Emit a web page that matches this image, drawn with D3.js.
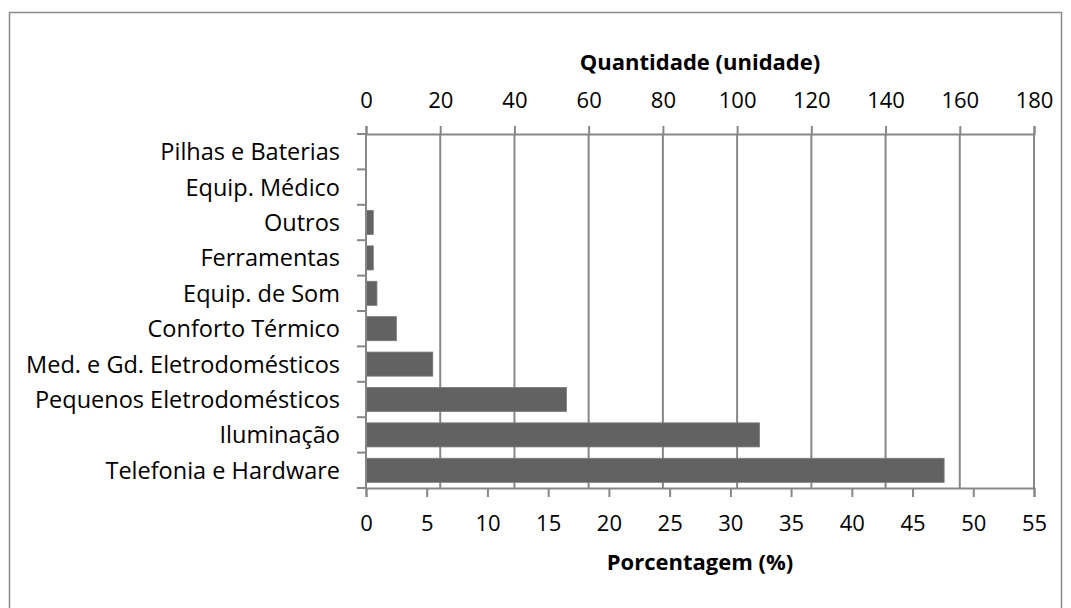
<!DOCTYPE html>
<html>
<head>
<meta charset="utf-8">
<script src="https://d3js.org/d3.v7.min.js"></script>
<style>
  body { margin: 0; background: #fff; }
  text { font-family: "Open Sans", Carlito, Calibri, sans-serif; fill: #000; }
  .title { font-weight: bold; }
</style>
</head>
<body>
<script>
  // values
  var categories = ["Pilhas e Baterias", "Equip. Médico", "Outros", "Ferramentas",
    "Equip. de Som", "Conforto Térmico", "Med. e Gd. Eletrodomésticos",
    "Pequenos Eletrodomésticos", "Iluminação", "Telefonia e Hardware"];
  var percent = [0, 0, 0.6, 0.6, 0.9, 2.5, 5.5, 16.5, 32.4, 47.6];
  var qtyTicks = [0, 20, 40, 60, 80, 100, 120, 140, 160, 180];
  var pctTicks = [0, 5, 10, 15, 20, 25, 30, 35, 40, 45, 50, 55];

  var W = 1071, H = 608;
  var margin = {top: 134, left: 366, right: 37, bottom: 120};
  var width = W - margin.left - margin.right,
      height = H - margin.top - margin.bottom;
  var grey = "#878787";

  var svg = d3.select("body").append("svg")
    .attr("width", W)
    .attr("height", H);

  // chart frame
  svg.append("rect")
    .attr("x", 9.5).attr("y", 12.5)
    .attr("width", 1052).attr("height", 620)
    .attr("fill", "none")
    .attr("stroke", "#8a8a8a")
    .attr("stroke-width", 1.5);

  var g = svg.append("g")
    .attr("transform", "translate(" + margin.left + "," + margin.top + ")");

  var xPct = d3.scaleLinear().domain([0, 55]).range([0, width]);
  var xQty = d3.scaleLinear().domain([0, 180]).range([0, width]);
  var y = d3.scaleBand()
    .domain(categories)
    .range([0, height])
    .paddingInner(0.32)
    .paddingOuter(0.16);

  // vertical gridlines from the top axis
  g.selectAll(".grid")
    .data(qtyTicks.slice(1))
    .enter()
    .append("line")
    .attr("class", "grid")
    .attr("x1", function(d) { return xQty(d); })
    .attr("x2", function(d) { return xQty(d); })
    .attr("y1", 0)
    .attr("y2", height)
    .attr("stroke", grey)
    .attr("stroke-width", 2);

  // bars
  g.selectAll(".bar")
    .data(categories)
    .enter()
    .append("rect")
    .attr("class", "bar")
    .attr("x", 0)
    .attr("y", function(d) { return y(d); })
    .attr("width", function(d, i) { return xPct(percent[i]); })
    .attr("height", y.bandwidth())
    .attr("fill", "#626262")
    .attr("stroke", "#7a7a7a")
    .attr("stroke-width", 0.8);

  // left axis: ticks at band edges
  var step = y.step();
  var edges = d3.range(categories.length + 1);
  g.selectAll(".ytick")
    .data(edges)
    .enter()
    .append("line")
    .attr("class", "ytick")
    .attr("x1", -9).attr("x2", 0)
    .attr("y1", function(d) { return d * step; })
    .attr("y2", function(d) { return d * step; })
    .attr("stroke", grey)
    .attr("stroke-width", 2);
  g.append("line")
    .attr("x1", 0).attr("x2", 0)
    .attr("y1", 0).attr("y2", height)
    .attr("stroke", grey)
    .attr("stroke-width", 2);

  g.selectAll(".ylab")
    .data(categories)
    .enter()
    .append("text")
    .attr("class", "ylab")
    .attr("x", -26)
    .attr("y", function(d) { return y(d) + y.bandwidth() / 2; })
    .attr("dy", "0.36em")
    .attr("text-anchor", "end")
    .style("font-size", "23.5px")
    .text(function(d) { return d; });

  // top axis (quantity)
  var axTop = g.append("g")
    .call(d3.axisTop(xQty).tickValues(qtyTicks).tickSize(8).tickPadding(18));
  // bottom axis (percent)
  var axBottom = g.append("g")
    .attr("transform", "translate(0," + height + ")")
    .call(d3.axisBottom(xPct).tickValues(pctTicks).tickSize(9).tickPadding(18));

  [axTop, axBottom].forEach(function(ax) {
    ax.select(".domain").attr("stroke", grey).attr("stroke-width", 2);
    ax.selectAll(".tick line").attr("stroke", grey).attr("stroke-width", 2);
    ax.selectAll(".tick text")
      .style("font-size", "22px")
      .style("font-family", "'Open Sans', Carlito, Calibri, sans-serif")
      .attr("fill", "#000");
  });

  // axis titles
  g.append("text")
    .attr("class", "title")
    .attr("x", width / 2)
    .attr("y", -64)
    .attr("text-anchor", "middle")
    .style("font-size", "22px")
    .text("Quantidade (unidade)");

  g.append("text")
    .attr("class", "title")
    .attr("x", width / 2)
    .attr("y", height + 82)
    .attr("text-anchor", "middle")
    .style("font-size", "22px")
    .text("Porcentagem (%)");
</script>
</body>
</html>
